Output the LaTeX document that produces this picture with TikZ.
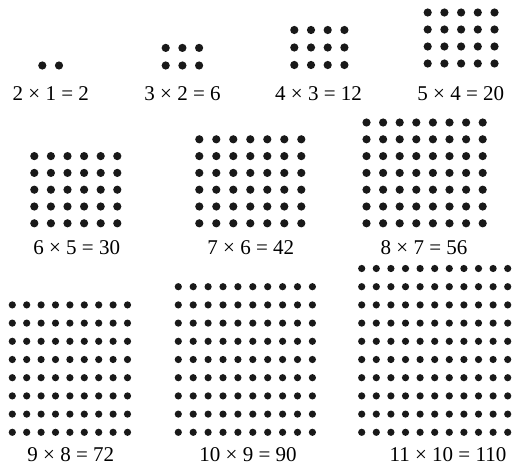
\documentclass[tikz,border=0pt]{standalone}
\usepackage{fontspec}
\setmainfont{Liberation Serif}
\usepackage{tikz}

\begin{document}
\begin{tikzpicture}[x=1pt, y=-1pt,
    lbl/.style={anchor=base, inner sep=0pt,
                font=\fontsize{21}{25}\selectfont},
    pip/.style={fill=black!90},
]
\useasboundingbox (0,0) rectangle (516,465);

%% ─── Dot arrays: cols/rows/left x/bottom y/dx/dy/radius ─────────────────
\foreach \nc/\nr/\xo/\yb/\dx/\dy/\rad in {
    2/1/42.3/65.5/16.7/17.3/4.1,
    3/2/165.7/65.5/16.7/17.6/4.1,
    4/3/294.3/65/16.7/17.5/4.1,
    5/4/427.7/63.5/16.7/17/4.1,
    6/5/34.3/223.3/16.6/16.8/4.1,
    7/6/199.3/223.3/17/16.8/4.1,
    8/7/366.5/223.3/16.6/16.8/4.1,
    9/8/12.3/432.3/14.4/18.2/3.6,
    10/9/178.3/432.3/14.9/18.2/3.6,
    11/10/361.7/432.3/14.6/18.2/3.6}{
  \foreach \i in {1,...,\nc}
    \foreach \j in {1,...,\nr}
      \fill[pip] ({\xo+(\i-1)*\dx}, {\yb-(\j-1)*\dy}) circle[radius=\rad pt];
}

%% ─── Top row ─────────────────────────────────────────────────────────────
\node[lbl] (p2)  at (50.8,100.5)  {2 × 1 = 2};
\node[lbl] (p6)  at (182.5,100.5) {3 × 2 = 6};
\node[lbl] (p12) at (318.5,100.5) {4 × 3 = 12};
\node[lbl] (p20) at (460.8,100.5) {5 × 4 = 20};

%% ─── Middle row ──────────────────────────────────────────────────────────
\node[lbl] (p30) at (76.7,254.5)  {6 × 5 = 30};
\node[lbl] (p42) at (250.8,254.5) {7 × 6 = 42};
\node[lbl] (p56) at (424,254.5)   {8 × 7 = 56};

%% ─── Bottom row ──────────────────────────────────────────────────────────
\node[lbl] (p72)  at (70.8,461.5) {9 × 8 = 72};
\node[lbl] (p90)  at (248,461.5)  {10 × 9 = 90};
\node[lbl] (p110) at (448,461.5)  {11 × 10 = 110};

\end{tikzpicture}
\end{document}
